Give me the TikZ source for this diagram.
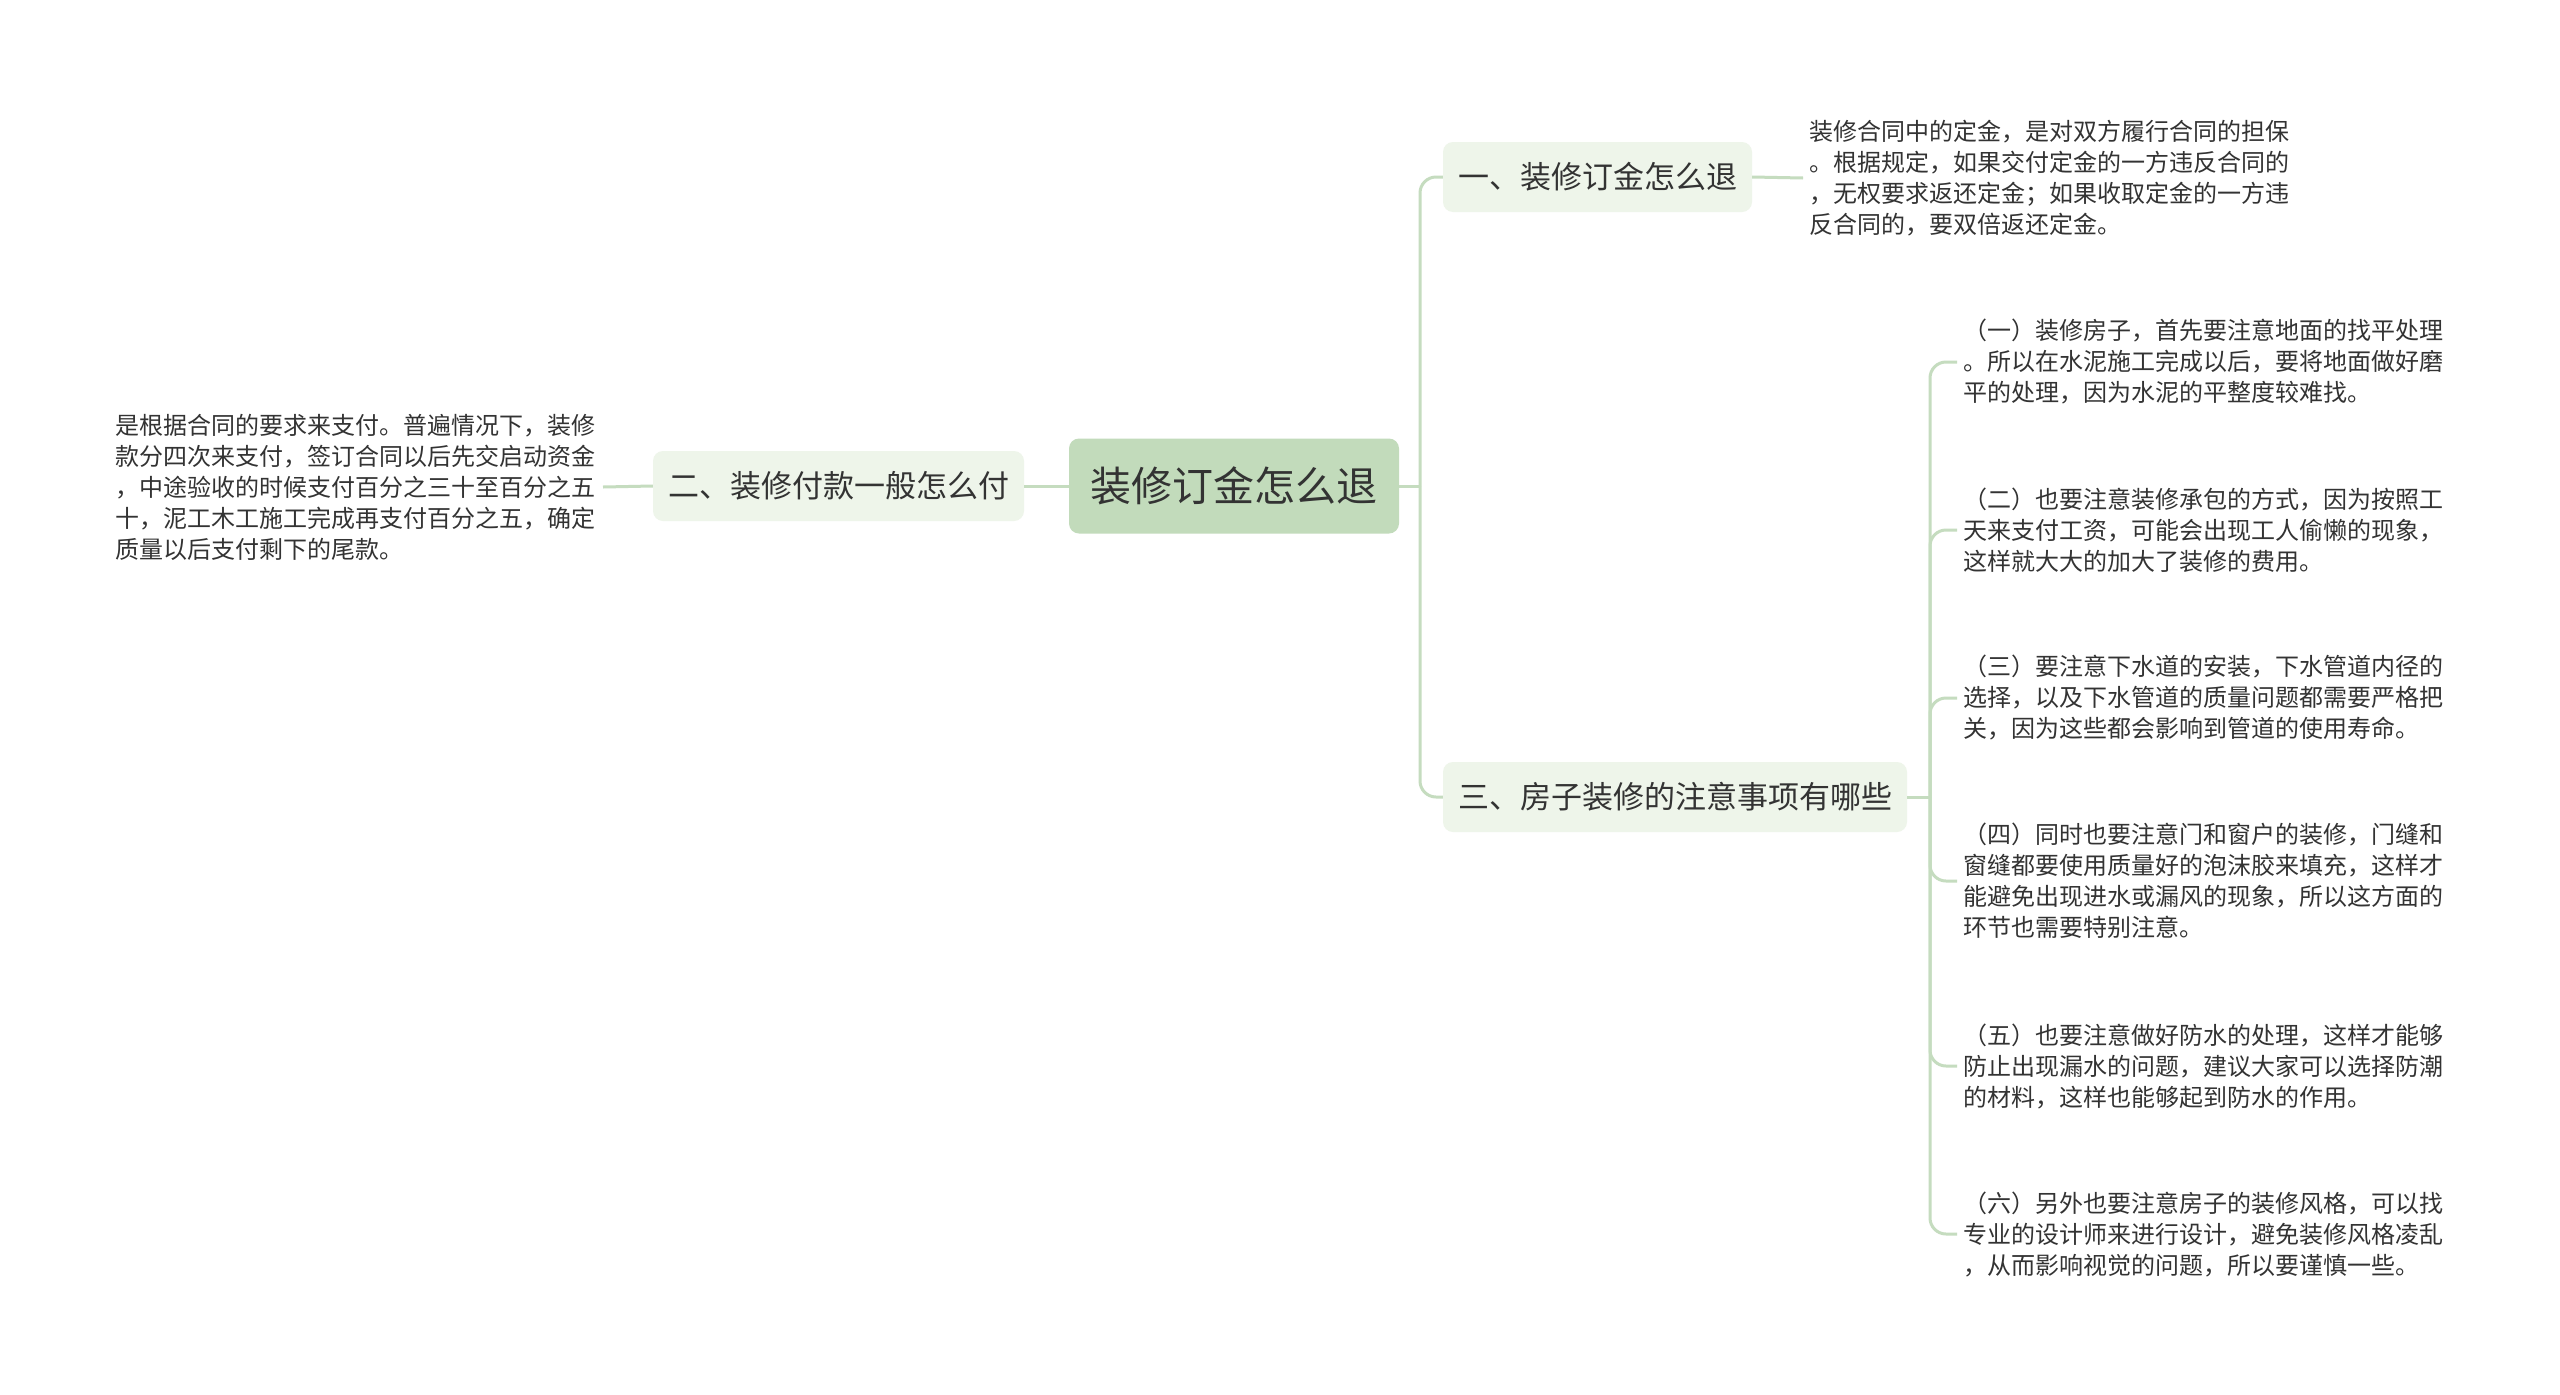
\documentclass[tikz,border=0pt]{standalone}
\usepackage{fontspec}
\setmainfont{Noto Sans CJK SC}
\definecolor{rootgreen}{HTML}{C2DBBB}
\definecolor{leafgreen}{HTML}{EEF5EA}
\definecolor{linkgreen}{HTML}{C5DCBF}
\definecolor{inkgray}{HTML}{333333}
\tikzset{
    rootbox/.style = {fill = rootgreen, rounded corners = 10pt, minimum width = 330pt, minimum height = 95pt, inner sep = 0pt, text = inkgray, font = \fontsize{41}{48}\selectfont},
    topicbox/.style = {fill = leafgreen, rounded corners = 10pt, minimum height = 70pt, inner sep = 0pt, text = inkgray, font = \fontsize{31}{36}\selectfont},
    notetext/.style = {text width = 481pt, align = left, inner xsep = 6pt, inner ysep = 0pt, text = inkgray, font = \fontsize{24}{31}\selectfont},
    link/.style = {draw = linkgreen, line width = 3pt},
}
\begin{document}
\begin{tikzpicture}[x = 1pt, y = -1pt]
    \useasboundingbox (0,0) rectangle (2560,1395);
    \fill[white] (0,0) rectangle (2560,1395);
    % main topics
    \node[rootbox] (root) at (1234,486) {装修订金怎么退};
    \node[topicbox, minimum width = 309pt] (refund) at (1597.5,177) {一、装修订金怎么退};
    \node[topicbox, minimum width = 371pt] (pay) at (838.5,486) {二、装修付款一般怎么付};
    \node[topicbox, minimum width = 464pt] (tips) at (1675,797) {三、房子装修的注意事项有哪些};
    % notes
    \node[notetext, anchor = west] (refundtxt) at (1803,178) {装修合同中的定金，是对双方履行合同的担保\\。根据规定，如果交付定金的一方违反合同的\\，无权要求返还定金；如果收取定金的一方违\\反合同的，要双倍返还定金。};
    \node[notetext, anchor = east] (paytxt) at (603,487) {是根据合同的要求来支付。普遍情况下，装修\\款分四次来支付，签订合同以后先交启动资金\\，中途验收的时候支付百分之三十至百分之五\\十，泥工木工施工完成再支付百分之五，确定\\质量以后支付剩下的尾款。};
    \node[notetext, anchor = west] (tip1) at (1957,362) {（一）装修房子，首先要注意地面的找平处理\\。所以在水泥施工完成以后，要将地面做好磨\\平的处理，因为水泥的平整度较难找。};
    \node[notetext, anchor = west] (tip2) at (1957,530) {（二）也要注意装修承包的方式，因为按照工\\天来支付工资，可能会出现工人偷懒的现象，\\这样就大大的加大了装修的费用。};
    \node[notetext, anchor = west] (tip3) at (1957,698) {（三）要注意下水道的安装，下水管道内径的\\选择，以及下水管道的质量问题都需要严格把\\关，因为这些都会影响到管道的使用寿命。};
    \node[notetext, anchor = west] (tip4) at (1957,881) {（四）同时也要注意门和窗户的装修，门缝和\\窗缝都要使用质量好的泡沫胶来填充，这样才\\能避免出现进水或漏风的现象，所以这方面的\\环节也需要特别注意。};
    \node[notetext, anchor = west] (tip5) at (1957,1066) {（五）也要注意做好防水的处理，这样才能够\\防止出现漏水的问题，建议大家可以选择防潮\\的材料，这样也能够起到防水的作用。};
    \node[notetext, anchor = west] (tip6) at (1957,1234) {（六）另外也要注意房子的装修风格，可以找\\专业的设计师来进行设计，避免装修风格凌乱\\，从而影响视觉的问题，所以要谨慎一些。};
    % connectors
    \coordinate (rootjoin) at (1420,486);
    \coordinate (tipsjoin) at (1930,797);
    \draw[link] (root.east) -- (rootjoin);
    \foreach \n in {refund, tips} {
        \draw[link, rounded corners = 16pt] (rootjoin) |- (\n.west);
    }
    \draw[link] (root.west) -- (pay.east);
    \draw[link] (pay.west) -- (paytxt.east);
    \draw[link] (refund.east) -- (refundtxt.west);
    \draw[link] (tips.east) -- (tipsjoin);
    \foreach \n in {1, ..., 6} {
        \draw[link, rounded corners = 16pt] (tipsjoin) |- (tip\n.west);
    }
\end{tikzpicture}
\end{document}
